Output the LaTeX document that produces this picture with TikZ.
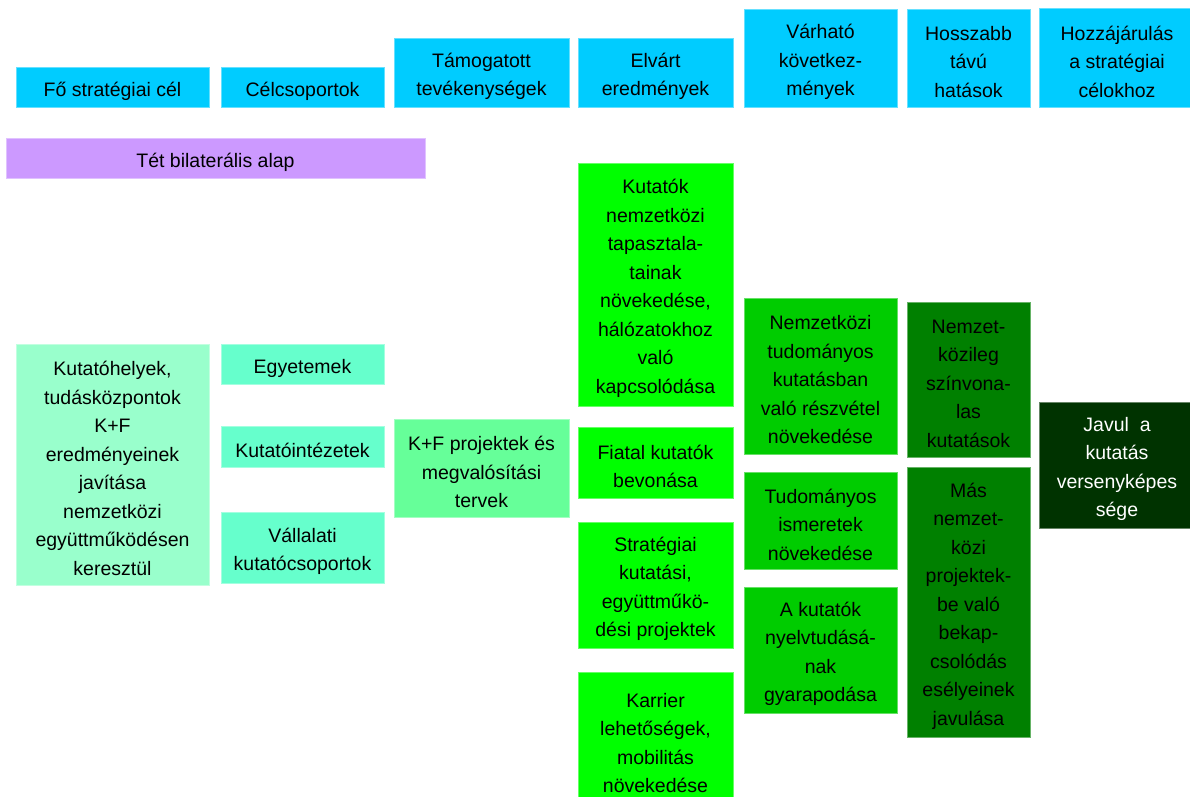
\documentclass[tikz,border=0pt]{standalone}
\usepackage{fontspec}
\setmainfont{Liberation Sans}
\definecolor{hdr}{HTML}{00CCFF}
\definecolor{tet}{HTML}{CC99FF}
\definecolor{goal}{HTML}{99FFCC}
\definecolor{grp}{HTML}{66FFCC}
\definecolor{act}{HTML}{66FF99}
\definecolor{res}{HTML}{00FF00}
\definecolor{cons}{HTML}{00CC00}
\definecolor{longt}{HTML}{008000}
\definecolor{contr}{HTML}{003300}
\tikzset{
  cell/.style={inner sep=0pt, outer sep=0pt, anchor=north west, line width=0.8pt},
  celltext/.style={inner sep=0pt, outer sep=0pt, align=center, text=black,
    font=\fontsize{19.5}{28.5}\selectfont},
  hdrbox/.style={cell, fill=hdr, draw=hdr!60!white},
  tetbox/.style={cell, fill=tet, draw=tet!60!white},
  goalbox/.style={cell, fill=goal, draw=goal!60!white},
  grpbox/.style={cell, fill=grp, draw=grp!60!white},
  actbox/.style={cell, fill=act, draw=act!60!white},
  resbox/.style={cell, fill=res, draw=res!60!white},
  consbox/.style={cell, fill=cons, draw=cons!60!white},
  longbox/.style={cell, fill=longt, draw=longt!60!white},
  contrbox/.style={cell, fill=contr, draw=contr!60!white},
  lighttext/.style={text=white},
}
\newcommand\mycell[8][]{%
  \node[#7, minimum width={#5pt-#3pt}, minimum height={#6pt-#4pt}] (#2) at (#3,#4) {};
  \node[celltext,#1] (#2-t) at ([yshift=-4pt]#2.center) {#8};}
\begin{document}
\begin{tikzpicture}[x=1pt,y=-1pt]
\useasboundingbox (0,0) rectangle (1190,796);
\clip (0,0) rectangle (1190,796);
% header row
\mycell{h1}{16}{67}{209}{107}{hdrbox}{Fő stratégiai cél}
\mycell{h2}{221}{67}{384}{107}{hdrbox}{Célcsoportok}
\mycell{h3}{394}{38}{569}{107}{hdrbox}{Támogatott\\tevékenységek}
\mycell{h4}{578}{38}{733}{107}{hdrbox}{Elvárt\\eredmények}
\mycell{h5}{744}{9}{897}{107}{hdrbox}{Várható\\következ-\\mények}
\mycell{h6}{907}{9}{1030}{107}{hdrbox}{Hosszabb\\távú\\hatások}
\mycell{h7}{1039}{8}{1195}{107}{hdrbox}{Hozzájárulás\\a stratégiai\\célokhoz}
% base
\mycell{tet}{6}{138}{425}{178}{tetbox}{Tét bilaterális alap}
% main goal
\mycell{goal}{16}{344}{209}{585}{goalbox}{Kutatóhelyek,\\tudásközpontok\\K+F\\eredményeinek\\javítása\\nemzetközi\\együttműködésen\\keresztül}
% target groups
\mycell{g1}{221}{344}{384}{384}{grpbox}{Egyetemek}
\mycell{g2}{221}{426}{384}{467}{grpbox}{Kutatóintézetek}
\mycell{g3}{221}{512}{384}{583}{grpbox}{Vállalati\\kutatócsoportok}
% activities
\mycell{a1}{394}{419}{569}{517}{actbox}{K+F projektek és\\megvalósítási\\tervek}
% expected results
\mycell{r1}{578}{163}{733}{406}{resbox}{Kutatók\\nemzetközi\\tapasztala-\\tainak\\növekedése,\\hálózatokhoz\\való\\kapcsolódása}
\mycell{r2}{578}{427}{733}{498}{resbox}{Fiatal kutatók\\bevonása}
\mycell{r3}{578}{522}{733}{648}{resbox}{Stratégiai\\kutatási,\\együttműkö-\\dési projektek}
\mycell{r4}{578}{672}{733}{806}{resbox}{Karrier\\lehetőségek,\\mobilitás\\növekedése}
% consequences
\mycell{c1}{744}{298}{897}{454}{consbox}{Nemzetközi\\tudományos\\kutatásban\\való részvétel\\növekedése}
\mycell{c2}{744}{472}{897}{569}{consbox}{Tudományos\\ismeretek\\növekedése}
\mycell{c3}{744}{587}{897}{713}{consbox}{A kutatók\\nyelvtudásá-\\nak\\gyarapodása}
% long-term impacts
\mycell{l1}{907}{302}{1030}{457}{longbox}{Nemzet-\\közileg\\színvona-\\las\\kutatások}
\mycell{l2}{907}{467}{1030}{737}{longbox}{Más\\nemzet-\\közi\\projektek-\\be való\\bekap-\\csolódás\\esélyeinek\\javulása}
% contribution
\mycell[lighttext]{k1}{1039}{402}{1195}{528}{contrbox}{Javul\ \ a\\kutatás\\versenyképes\\sége}
\end{tikzpicture}
\end{document}
